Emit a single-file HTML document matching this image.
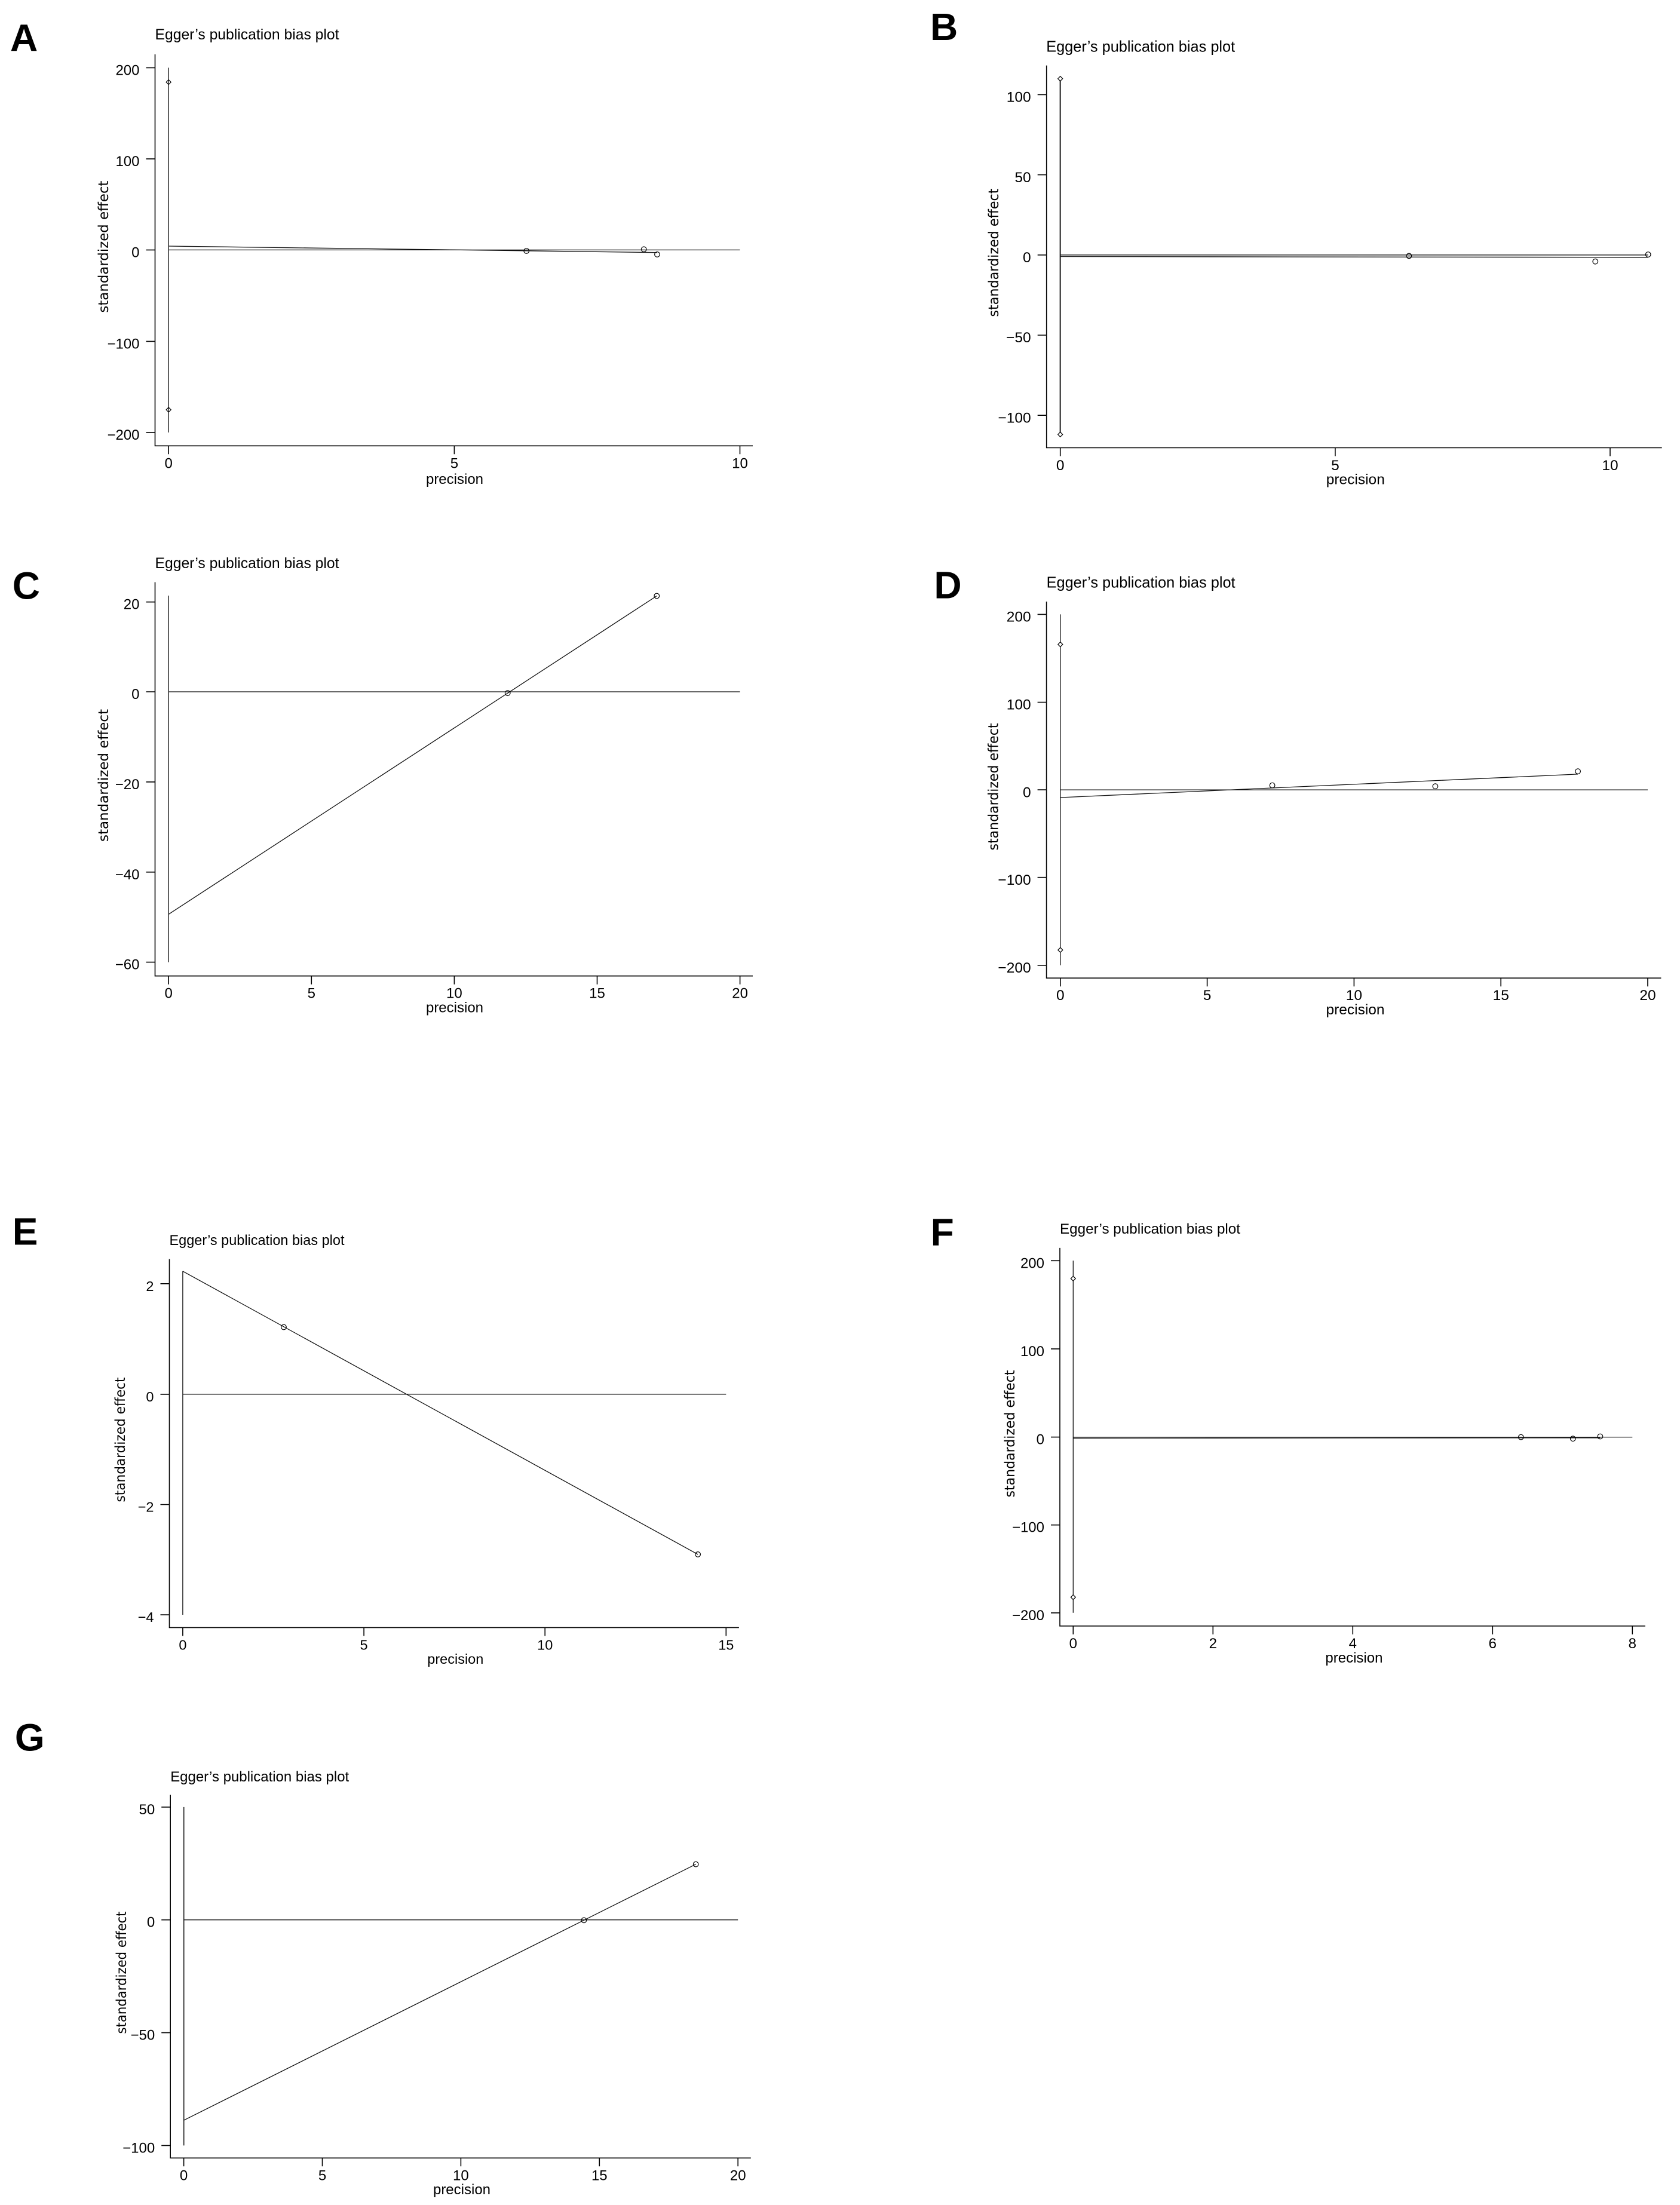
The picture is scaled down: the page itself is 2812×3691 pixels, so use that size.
<!DOCTYPE html>
<html><head><meta charset="utf-8"><style>
html,body{margin:0;padding:0;background:#fff;}
svg{display:block;}
.ax{stroke:#000;stroke-width:1.6;fill:none;}
.dl{stroke:#111;stroke-width:1.3;fill:none;}
.mk{stroke:#000;stroke-width:1.2;fill:none;}
.tk{font-family:"Liberation Sans",sans-serif;font-size:24px;fill:#000;}
.ti{font-family:"Liberation Sans",sans-serif;font-size:25px;fill:#000;}
.yl{font-family:"DejaVu Sans",sans-serif;font-size:23px;fill:#000;}
.pl{font-family:"Liberation Sans",sans-serif;font-weight:bold;font-size:64px;fill:#000;}
</style></head><body>
<svg width="2812" height="3691" viewBox="0 0 2812 3691" xmlns="http://www.w3.org/2000/svg">
<rect width="2812" height="3691" fill="#fff"/>

<!-- Panel A -->
<text class="pl" x="17" y="85.6">A</text>
<text class="ti" x="259.5" y="66" textLength="308" lengthAdjust="spacingAndGlyphs">Egger’s publication bias plot</text>
<path class="ax" d="M259.5,91 V746.3 H1260"/>
<path class="ax" d="M244.5,113.4H259.5M244.5,265.9H259.5M244.5,418.4H259.5M244.5,571.4H259.5M244.5,723.9H259.5"/>
<path class="ax" d="M282.2,746.3v14M760.4,746.3v14M1238.5,746.3v14"/>
<g class="tk" text-anchor="end">
<text x="233.5" y="125.4">200</text><text x="233.5" y="277.9">100</text><text x="233.5" y="430.4">0</text><text x="233.5" y="583.4">−100</text><text x="233.5" y="735.9">−200</text>
</g>
<g class="tk" text-anchor="middle">
<text x="282.2" y="783.5">0</text><text x="760.4" y="783.5">5</text><text x="1238.5" y="783.5">10</text>
<text x="761" y="810">precision</text>
</g>
<text class="yl" transform="translate(181,413) rotate(-90)" text-anchor="middle" textLength="221" lengthAdjust="spacingAndGlyphs">standardized effect</text>
<path class="dl" d="M282.2,113.4V723.9"/>
<path class="dl" d="M282.2,418.4H1238.5"/>
<path class="dl" d="M282.2,412L1100,422.7"/>
<path class="mk" d="M282.2,133.5l4,4l-4,4l-4,-4z M282.2,681.9l4,4l-4,4l-4,-4z"/>
<circle class="mk" cx="881.2" cy="420" r="4.3"/><circle class="mk" cx="1077.7" cy="417.3" r="4.3"/><circle class="mk" cx="1100" cy="425.9" r="4.3"/>

<!-- Panel B -->
<text class="pl" x="1557" y="66.9">B</text>
<text class="ti" x="1751.2" y="86.6" style="font-size:25.7px" textLength="316" lengthAdjust="spacingAndGlyphs">Egger’s publication bias plot</text>
<path class="ax" d="M1751.7,109.6 V749.5 H2781.7"/>
<path class="ax" d="M1736.7,158.4H1751.7M1736.7,292.6H1751.7M1736.7,426.8H1751.7M1736.7,561H1751.7M1736.7,695.2H1751.7"/>
<path class="ax" d="M1774.7,749.5v14M2234.9,749.5v14M2695,749.5v14"/>
<g class="tk" text-anchor="end" style="font-size:24.5px">
<text x="1725.7" y="170.6">100</text><text x="1725.7" y="304.8">50</text><text x="1725.7" y="439">0</text><text x="1725.7" y="573.2">−50</text><text x="1725.7" y="707.4">−100</text>
</g>
<g class="tk" text-anchor="middle" style="font-size:24.5px">
<text x="1774.7" y="786.8">0</text><text x="2234.9" y="786.8">5</text><text x="2695" y="786.8">10</text>
<text x="2268.8" y="810.5">precision</text>
</g>
<text class="yl" transform="translate(1671,423) rotate(-90)" text-anchor="middle" textLength="215" lengthAdjust="spacingAndGlyphs">standardized effect</text>
<path class="dl" d="M1774.7,131.7V727.3" style="stroke:#333;stroke-width:2.2"/>
<path class="dl" d="M1774.7,426.8H2758.7"/>
<path class="dl" d="M1774.7,429.5L2758.7,430.7"/>
<path class="mk" d="M1774.7,127.7l4,4l-4,4l-4,-4z M1774.7,723.3l4,4l-4,4l-4,-4z" style="fill:#fff"/>
<circle class="mk" cx="2358.4" cy="428.4" r="4.3"/><circle class="mk" cx="2670.3" cy="437.7" r="4.3"/><circle class="mk" cx="2758.7" cy="426" r="4.3"/>

<!-- Panel C -->
<text class="pl" x="20.7" y="1002.4">C</text>
<text class="ti" x="259.5" y="951" textLength="308" lengthAdjust="spacingAndGlyphs">Egger’s publication bias plot</text>
<path class="ax" d="M259.5,974.5 V1633.7 H1260"/>
<path class="ax" d="M244.5,1007.7H259.5M244.5,1158H259.5M244.5,1308.9H259.5M244.5,1459.8H259.5M244.5,1610.6H259.5"/>
<path class="ax" d="M282.2,1633.7v14M521.3,1633.7v14M760.4,1633.7v14M999.5,1633.7v14M1238.6,1633.7v14"/>
<g class="tk" text-anchor="end">
<text x="233.5" y="1019.7">20</text><text x="233.5" y="1170">0</text><text x="233.5" y="1320.9">−20</text><text x="233.5" y="1471.8">−40</text><text x="233.5" y="1622.6">−60</text>
</g>
<g class="tk" text-anchor="middle">
<text x="282.2" y="1670.7">0</text><text x="521.3" y="1670.7">5</text><text x="760.4" y="1670.7">10</text><text x="999.5" y="1670.7">15</text><text x="1238.6" y="1670.7">20</text>
<text x="761" y="1694.5">precision</text>
</g>
<text class="yl" transform="translate(181,1298) rotate(-90)" text-anchor="middle" textLength="222" lengthAdjust="spacingAndGlyphs">standardized effect</text>
<path class="dl" d="M282.2,997V1610.6"/>
<path class="dl" d="M282.2,1158H1238.6"/>
<path class="dl" d="M282.2,1530.4L1099.3,997.5"/>
<circle class="mk" cx="849.7" cy="1160.2" r="4.3"/><circle class="mk" cx="1099.3" cy="997.5" r="4.3"/>

<!-- Panel D -->
<text class="pl" x="1563.4" y="1001.7">D</text>
<text class="ti" x="1751.6" y="983.5" style="font-size:25.6px" textLength="316" lengthAdjust="spacingAndGlyphs">Egger’s publication bias plot</text>
<path class="ax" d="M1751.6,1007 V1637.2 H2780.4"/>
<path class="ax" d="M1736.6,1028.4H1751.6M1736.6,1175.5H1751.6M1736.6,1322.1H1751.6M1736.6,1468.7H1751.6M1736.6,1615.8H1751.6"/>
<path class="ax" d="M1774.8,1637.2v14M2020.6,1637.2v14M2266.4,1637.2v14M2512.2,1637.2v14M2758,1637.2v14"/>
<g class="tk" text-anchor="end" style="font-size:24.5px">
<text x="1725.6" y="1040.6">200</text><text x="1725.6" y="1187.7">100</text><text x="1725.6" y="1334.3">0</text><text x="1725.6" y="1480.9">−100</text><text x="1725.6" y="1628">−200</text>
</g>
<g class="tk" text-anchor="middle" style="font-size:24.5px">
<text x="1774.8" y="1674.2">0</text><text x="2020.6" y="1674.2">5</text><text x="2266.4" y="1674.2">10</text><text x="2512.2" y="1674.2">15</text><text x="2758" y="1674.2">20</text>
<text x="2268.5" y="1698">precision</text>
</g>
<text class="yl" transform="translate(1670.5,1317) rotate(-90)" text-anchor="middle" textLength="213" lengthAdjust="spacingAndGlyphs">standardized effect</text>
<path class="dl" d="M1774.8,1028.4V1615.8"/>
<path class="dl" d="M1774.8,1322.1H2758"/>
<path class="dl" d="M1774.8,1335L2641.1,1295.9"/>
<path class="mk" d="M1774.8,1074.7l4,4l-4,4l-4,-4z M1774.8,1586.2l4,4l-4,4l-4,-4z" style="fill:#fff"/>
<circle class="mk" cx="2129.6" cy="1314.6" r="4.3"/><circle class="mk" cx="2402.4" cy="1316.2" r="4.3"/><circle class="mk" cx="2641.1" cy="1291.1" r="4.3"/>

<!-- Panel E -->
<text class="pl" x="20.7" y="2083.5">E</text>
<text class="ti" x="283.5" y="2084" style="font-size:23.8px" textLength="293" lengthAdjust="spacingAndGlyphs">Egger’s publication bias plot</text>
<path class="ax" d="M283.5,2107.6 V2724.4 H1236.9"/>
<path class="ax" d="M268.5,2148.8H283.5M268.5,2333.9H283.5M268.5,2518.5H283.5M268.5,2703H283.5"/>
<path class="ax" d="M305.9,2724.4v14M609.1,2724.4v14M912.2,2724.4v14M1215.3,2724.4v14"/>
<g class="tk" text-anchor="end" style="font-size:23.5px">
<text x="257.5" y="2160.8">2</text><text x="257.5" y="2345.9">0</text><text x="257.5" y="2530.5">−2</text><text x="257.5" y="2715">−4</text>
</g>
<g class="tk" text-anchor="middle" style="font-size:23.5px">
<text x="305.9" y="2761.4">0</text><text x="609.1" y="2761.4">5</text><text x="912.2" y="2761.4">10</text><text x="1215.3" y="2761.4">15</text>
<text x="762.3" y="2785">precision</text>
</g>
<text class="yl" transform="translate(209,2410) rotate(-90)" text-anchor="middle" textLength="209" lengthAdjust="spacingAndGlyphs">standardized effect</text>
<path class="dl" d="M305.9,2127.9V2703"/>
<path class="dl" d="M305.9,2333.9H1215.3"/>
<path class="dl" d="M305.9,2127.9L1168.1,2601.9"/>
<circle class="mk" cx="475" cy="2221.5" r="4.3"/><circle class="mk" cx="1168.1" cy="2601.9" r="4.3"/>

<!-- Panel F -->
<text class="pl" x="1557.6" y="2084.6">F</text>
<text class="ti" x="1774" y="2065" style="font-size:24.5px" textLength="302" lengthAdjust="spacingAndGlyphs">Egger’s publication bias plot</text>
<path class="ax" d="M1774,2088.9 V2721.8 H2753.9"/>
<path class="ax" d="M1759,2110.3H1774M1759,2257.9H1774M1759,2405.6H1774M1759,2552.7H1774M1759,2699.8H1774"/>
<path class="ax" d="M1796.3,2721.8v14M2030.3,2721.8v14M2264.3,2721.8v14M2498.3,2721.8v14M2732.3,2721.8v14"/>
<g class="tk" text-anchor="end">
<text x="1748" y="2122.3">200</text><text x="1748" y="2269.9">100</text><text x="1748" y="2417.6">0</text><text x="1748" y="2564.7">−100</text><text x="1748" y="2711.8">−200</text>
</g>
<g class="tk" text-anchor="middle">
<text x="1796.3" y="2758.8">0</text><text x="2030.3" y="2758.8">2</text><text x="2264.3" y="2758.8">4</text><text x="2498.3" y="2758.8">6</text><text x="2732.3" y="2758.8">8</text>
<text x="2266.4" y="2782.8">precision</text>
</g>
<text class="yl" transform="translate(1698,2400) rotate(-90)" text-anchor="middle" textLength="213" lengthAdjust="spacingAndGlyphs">standardized effect</text>
<path class="dl" d="M1796.3,2110.3V2699.8"/>
<path class="dl" d="M1796.3,2405.6H2732.3"/>
<path class="dl" d="M1796.3,2407.3L2678.4,2406.8"/>
<path class="mk" d="M1796.3,2136.2l4,4l-4,4l-4,-4z M1796.3,2669.6l4,4l-4,4l-4,-4z" style="fill:#fff"/>
<circle class="mk" cx="2545.8" cy="2405.6" r="4.3"/><circle class="mk" cx="2632.8" cy="2408.2" r="4.3"/><circle class="mk" cx="2678.4" cy="2404.5" r="4.3"/>

<!-- Panel G -->
<text class="pl" x="24.9" y="2930.5">G</text>
<text class="ti" x="285.2" y="2982" style="font-size:24.3px" textLength="299" lengthAdjust="spacingAndGlyphs">Egger’s publication bias plot</text>
<path class="ax" d="M285.2,3004.5 V3612.3 H1256.8"/>
<path class="ax" d="M270.2,3024.9H285.2M270.2,3213.7H285.2M270.2,3402.6H285.2M270.2,3591.4H285.2"/>
<path class="ax" d="M307.6,3612.3v14M539.5,3612.3v14M771.4,3612.3v14M1003.3,3612.3v14M1235.2,3612.3v14"/>
<g class="tk" text-anchor="end">
<text x="259.2" y="3036.9">50</text><text x="259.2" y="3225.7">0</text><text x="259.2" y="3414.6">−50</text><text x="259.2" y="3603.4">−100</text>
</g>
<g class="tk" text-anchor="middle">
<text x="307.6" y="3649.5">0</text><text x="539.5" y="3649.5">5</text><text x="771.4" y="3649.5">10</text><text x="1003.3" y="3649.5">15</text><text x="1235.2" y="3649.5">20</text>
<text x="773" y="3673">precision</text>
</g>
<text class="yl" transform="translate(211,3302) rotate(-90)" text-anchor="middle" textLength="205" lengthAdjust="spacingAndGlyphs">standardized effect</text>
<path class="dl" d="M307.6,3024.9V3591.4" style="stroke:#444;stroke-width:2"/>
<path class="dl" d="M307.6,3213.7H1235.2"/>
<path class="dl" d="M307.6,3549.2L1164.7,3120.6"/>
<circle class="mk" cx="977.4" cy="3214.3" r="4.3"/><circle class="mk" cx="1164.7" cy="3120.6" r="4.3"/>
</svg>
</body></html>
